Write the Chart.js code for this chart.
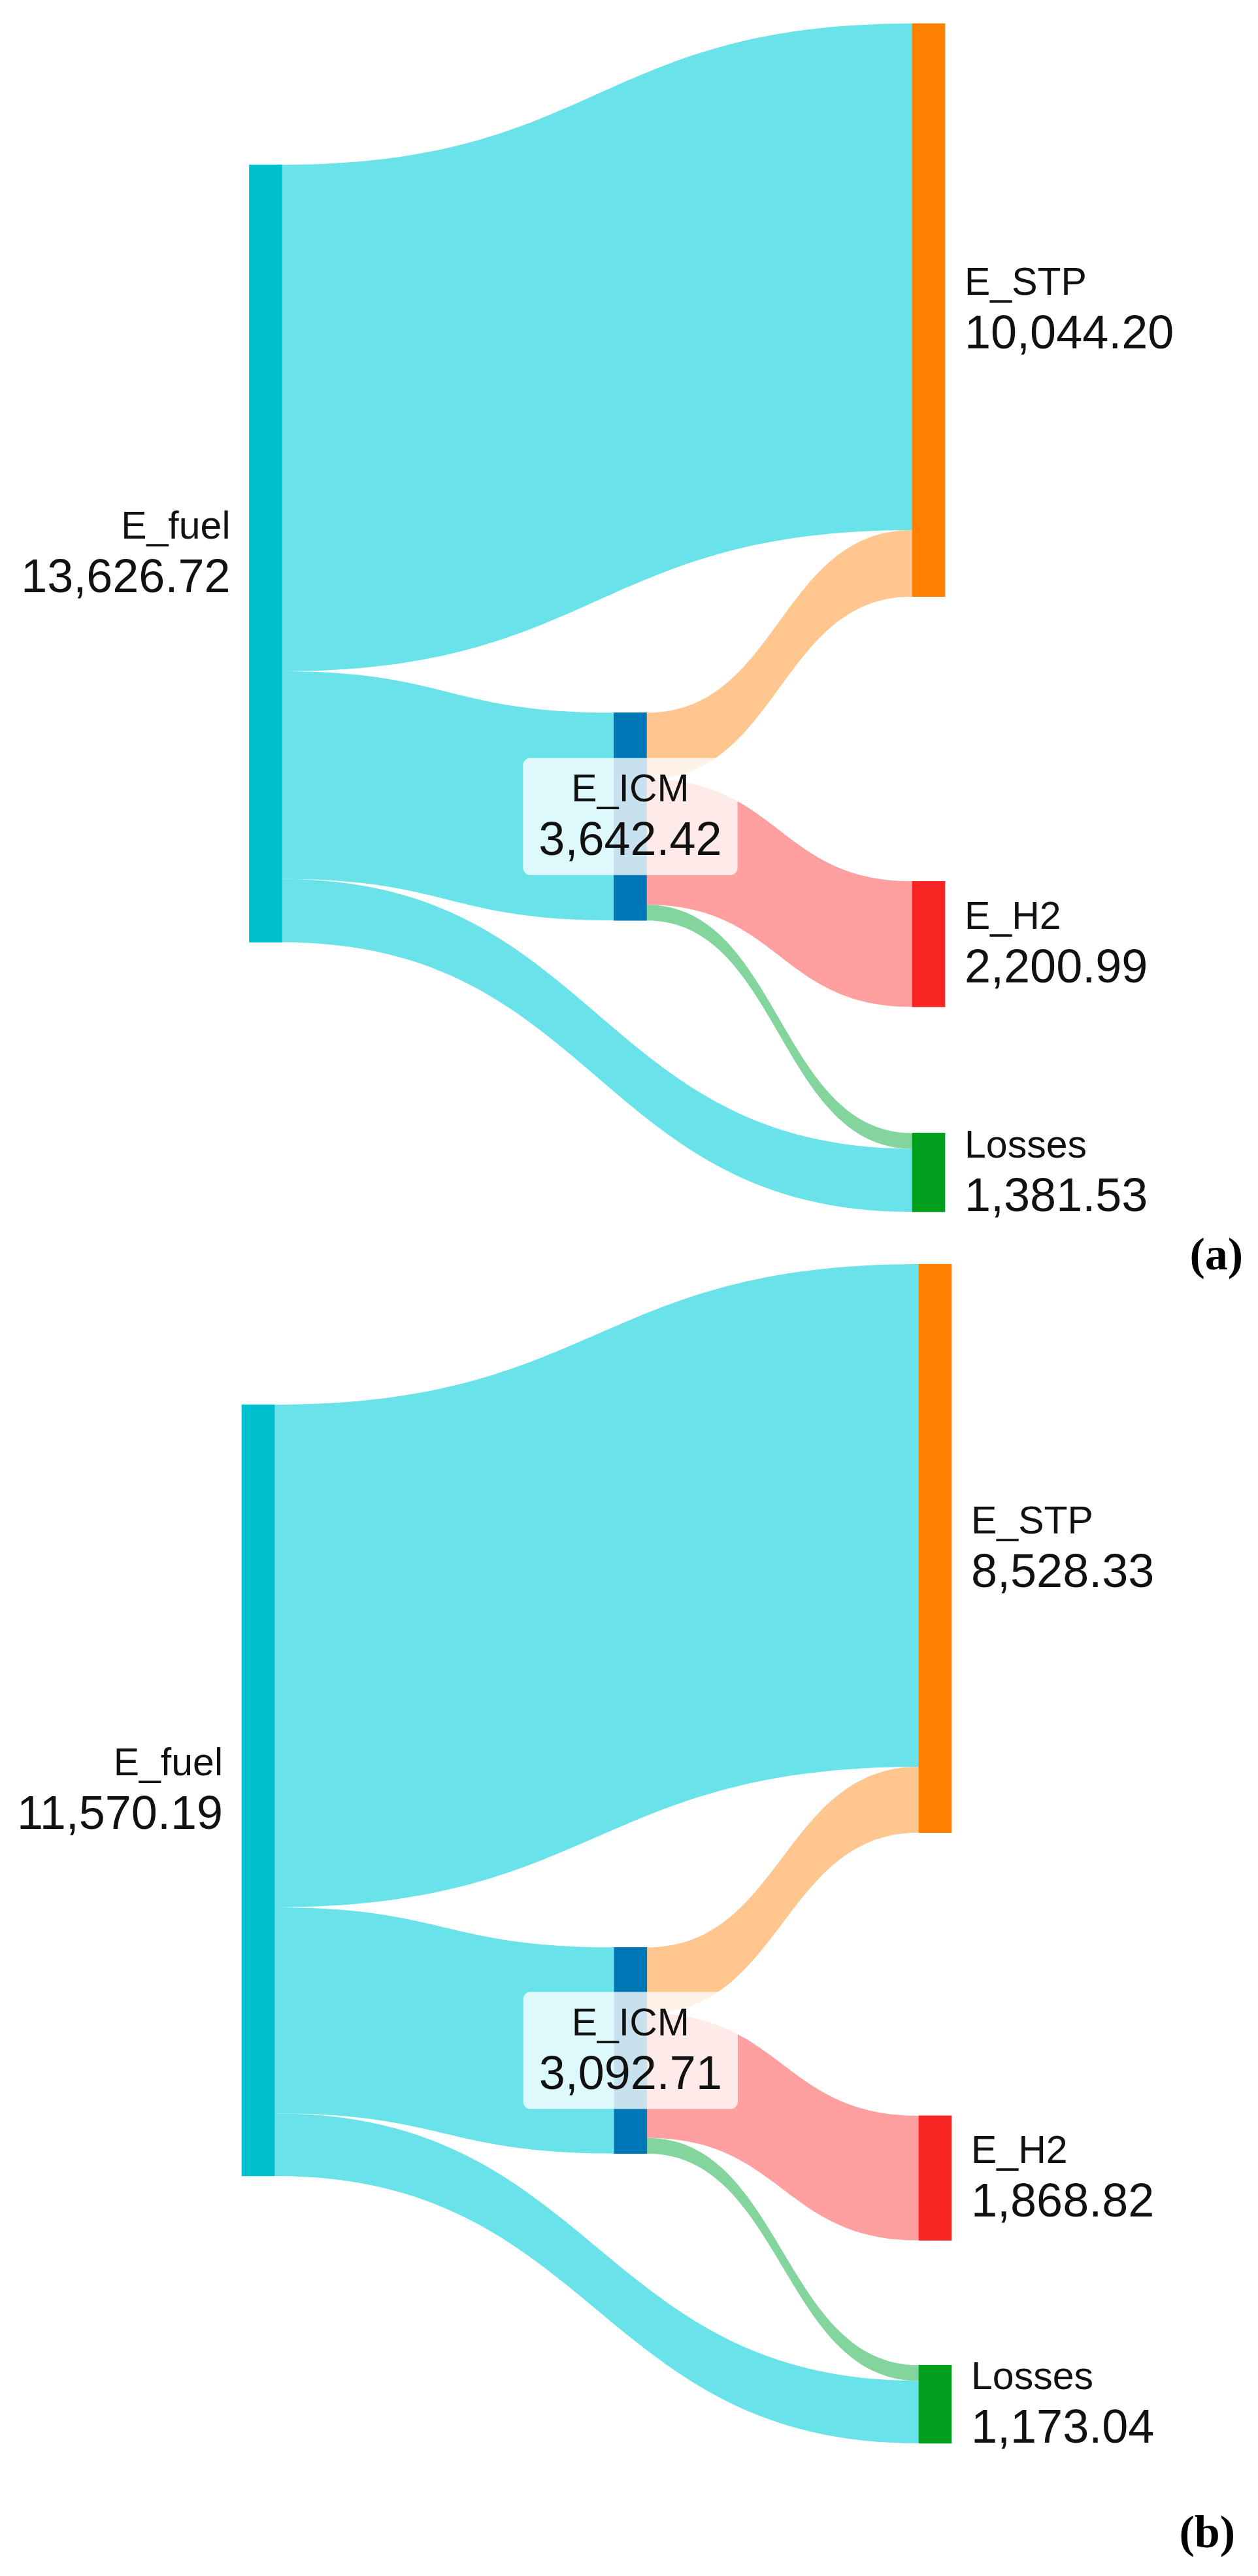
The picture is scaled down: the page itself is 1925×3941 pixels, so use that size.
<!DOCTYPE html>
<html>
<head>
<meta charset="utf-8">
<script src="https://cdn.jsdelivr.net/npm/chart.js@4/dist/chart.umd.min.js"></script>
<style>
  html, body { margin: 0; padding: 0; background: #ffffff; }
  #wrap { position: relative; width: 1925px; height: 3941px; background: #ffffff; overflow: hidden; }
  canvas { position: absolute; left: 0; }
</style>
</head>
<body>
<div id="wrap">
  <canvas id="chartA" width="1925" height="1975" style="top:0px;width:1925px;height:1975px"></canvas>
  <canvas id="chartB" width="1925" height="2041" style="top:1900px;width:1925px;height:2041px"></canvas>
</div>
<script>
// ---------------- DATA ----------------
const nodeNames = ['E_fuel', 'E_ICM', 'E_STP', 'E_H2', 'Losses'];
const nodeValuesA = [13626.72, 3642.42, 10044.20, 2200.99, 1381.53];
const nodeValuesB = [11570.19, 3092.71, 8528.33, 1868.82, 1173.04];

// links: source -> target (indices into nodeNames)
const linkSource = [0, 0, 0, 1, 1, 1];
const linkTarget = [2, 1, 4, 2, 3, 4];
const linkValuesA = [8877.77, 3642.42, 1106.53, 1166.43, 2200.99, 275.00];
const linkValuesB = [7539.44, 3092.71, 938.04, 988.89, 1868.82, 235.00];

const panelTags = ['(a)', '(b)'];

// ---------------- LAYOUT (positions, in axis units) ----------------
const nodeColumn = [0, 0.55, 1, 1, 1];              // x position on the 0..1 x axis
const nodeTopA = [2475, 12079, 0, 15035, 19447];    // top of each node on the value (y) axis
const nodeTopB = [2108, 10249, 0, 12776, 16516];
const labelSide = ['left', 'center', 'right', 'right', 'right'];

// ---------------- STYLES ----------------
const nodeColors = ['#00BFCF', '#0077B6', '#FF8000', '#F82525', '#00A01F'];
const linkColors = ['#69E2EA', '#69E2EA', '#69E2EA', '#FFC690', '#FF9FA0', '#84D49E'];
const NODE_THICKNESS = 50;
const NAME_FONT = '59px "Liberation Sans", Arial, sans-serif';
const VALUE_FONT = '72px "Liberation Sans", Arial, sans-serif';
const TAG_FONT = 'bold 70px "Liberation Serif", "Times New Roman", serif';

const fmt = v => v.toLocaleString('en-US', { minimumFractionDigits: 2, maximumFractionDigits: 2 });

function computeSankey(chart, o) {
  const xs = chart.scales.x, ys = chart.scales.y;
  const half = NODE_THICKNESS / 2;
  const nodes = nodeNames.map((name, i) => {
    const cx = xs.getPixelForValue(nodeColumn[i]);
    return {
      name, value: o.values[i], top: o.tops[i], cx,
      x0: cx - half, x1: cx + half,
      y0: ys.getPixelForValue(o.tops[i]),
      y1: ys.getPixelForValue(o.tops[i] + o.values[i])
    };
  });
  const links = linkSource.map((s, i) => ({ s, t: linkTarget[i], v: o.linkValues[i], i }));
  // outgoing: stacked in order of the target's position
  nodes.forEach((n, ni) => {
    let off = n.top;
    links.filter(l => l.s === ni)
      .sort((a, b) => o.tops[a.t] - o.tops[b.t])
      .forEach(l => { l.sa = off; l.sb = off + l.v; off += l.v; });
  });
  // incoming: stacked in order of where the link leaves its source
  nodes.forEach((n, ni) => {
    let off = n.top;
    links.filter(l => l.t === ni)
      .sort((a, b) => a.sb - b.sb)
      .forEach(l => { l.ta = off; l.tb = off + l.v; off += l.v; });
  });
  links.forEach(l => {
    l.x0 = nodes[l.s].x1; l.x1 = nodes[l.t].x0;
    l.y0a = ys.getPixelForValue(l.sa); l.y0b = ys.getPixelForValue(l.sb);
    l.y1a = ys.getPixelForValue(l.ta); l.y1b = ys.getPixelForValue(l.tb);
  });
  return { nodes, links };
}

const sankeyPlugin = {
  id: 'sankeyLinks',
  beforeDatasetsDraw(chart, args, o) {
    const { links } = computeSankey(chart, o);
    const ctx = chart.ctx;
    ctx.save();
    links.forEach(l => {
      const xm = (l.x0 + l.x1) / 2;
      ctx.beginPath();
      ctx.moveTo(l.x0, l.y0a);
      ctx.bezierCurveTo(xm, l.y0a, xm, l.y1a, l.x1, l.y1a);
      ctx.lineTo(l.x1, l.y1b);
      ctx.bezierCurveTo(xm, l.y1b, xm, l.y0b, l.x0, l.y0b);
      ctx.closePath();
      ctx.fillStyle = linkColors[l.i];
      ctx.fill();
    });
    ctx.restore();
  },
  afterDatasetsDraw(chart, args, o) {
    const { nodes } = computeSankey(chart, o);
    const ctx = chart.ctx;
    ctx.save();
    ctx.fillStyle = '#111';
    ctx.textBaseline = 'alphabetic';
    nodes.forEach((n, i) => {
      const cy = (n.y0 + n.y1) / 2;
      const valTxt = fmt(n.value);
      const side = labelSide[i];
      let tx, align;
      if (side === 'left') { tx = n.x0 - 29; align = 'right'; }
      else if (side === 'right') { tx = n.x1 + 30; align = 'left'; }
      else {
        tx = n.cx; align = 'center';
        ctx.font = VALUE_FONT;
        const w1 = ctx.measureText(valTxt).width;
        ctx.font = NAME_FONT;
        const w2 = ctx.measureText(n.name).width;
        const bw = Math.max(w1, w2) + 48, bh = 179;
        ctx.fillStyle = 'rgba(255,255,255,0.78)';
        ctx.beginPath();
        ctx.roundRect(tx - bw / 2, cy - bh / 2, bw, bh, 11);
        ctx.fill();
        ctx.fillStyle = '#111';
      }
      ctx.textAlign = align;
      ctx.font = NAME_FONT;
      ctx.fillText(n.name, tx, cy - 23);
      ctx.font = VALUE_FONT;
      ctx.fillText(valTxt, tx, cy + 59);
    });
    ctx.restore();
  },
  afterDraw(chart, args, o) {
    const ctx = chart.ctx;
    ctx.save();
    ctx.font = TAG_FONT;
    ctx.fillStyle = '#000';
    ctx.textAlign = 'right';
    ctx.textBaseline = 'alphabetic';
    ctx.fillText(o.tag, o.tagX, o.tagY);
    ctx.restore();
  }
};

function makeSankey(canvasId, values, linkValues, tops, tag, pad, tagPos) {
  const yMax = Math.max(...tops.map((t, i) => t + values[i]));
  const data = nodeNames.map((n, i) => ({ x: nodeColumn[i], y: [tops[i], tops[i] + values[i]] }));
  return new Chart(document.getElementById(canvasId), {
    type: 'bar',
    data: {
      labels: nodeNames,
      datasets: [{
        data,
        backgroundColor: nodeColors,
        borderWidth: 0,
        borderSkipped: false,
        barThickness: NODE_THICKNESS,
        clip: false
      }]
    },
    options: {
      responsive: false,
      animation: false,
      events: [],
      layout: { padding: pad },
      plugins: {
        legend: { display: false },
        tooltip: { enabled: false },
        sankeyLinks: { values, linkValues, tops, tag, tagX: tagPos[0], tagY: tagPos[1] }
      },
      scales: {
        x: { type: 'linear', min: 0, max: 1, offset: false, display: false },
        y: { type: 'linear', min: 0, max: yMax, reverse: true, display: false }
      }
    },
    plugins: [sankeyPlugin]
  });
}

makeSankey('chartA', nodeValuesA, linkValuesA, nodeTopA, panelTags[0],
  { left: 406.5, right: 504, top: 36, bottom: 121 }, [1902, 1942]);
makeSankey('chartB', nodeValuesB, linkValuesB, nodeTopB, panelTags[1],
  { left: 395, right: 494, top: 34, bottom: 203 }, [1890, 1997]);
</script>
</body>
</html>
